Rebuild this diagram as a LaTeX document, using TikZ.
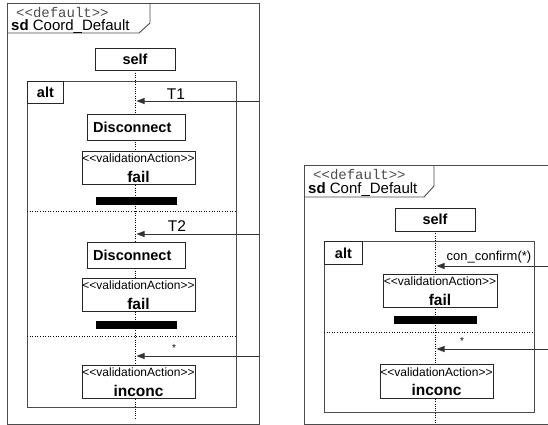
\documentclass[tikz,border=0pt]{standalone}
\usepackage{fontspec}
\newfontfamily\lsans{Liberation Sans}
\newfontfamily\lmono{Liberation Mono}
\usetikzlibrary{arrows.meta,backgrounds}
\begin{document}
\begin{tikzpicture}[x=1pt,y=-1pt,
  frm/.style={draw=black!70, line width=0.9pt},
  box/.style={draw=black!85, line width=0.9pt, inner sep=0pt, fill=white},
  life/.style={draw=black, line width=0.9pt, dash pattern=on 1pt off 1.3pt},
  sepline/.style={draw=black, line width=0.9pt, dash pattern=on 1pt off 1.6pt},
  msg/.style={draw=black!80, line width=0.9pt, -{Triangle[length=8pt,width=6pt]}, shorten >=1.5pt},
  bar/.style={fill=black, inner sep=0pt, minimum height=8pt},
  stereo/.style={font=\lsans\fontsize{12}{12}\selectfont, inner sep=0pt},
  act/.style={font=\lsans\bfseries\fontsize{14.5}{15}\selectfont, inner sep=0pt},
  big/.style={font=\lsans\bfseries\fontsize{15.5}{16}\selectfont, inner sep=0pt},
  lbl/.style={font=\lsans\fontsize{13}{14}\selectfont, inner sep=0pt},
  deflbl/.style={font=\lmono\fontsize{14}{14}\selectfont, text=black!70, inner sep=0pt, anchor=base west},
  sdlbl/.style={font=\lsans\fontsize{15}{15}\selectfont, inner sep=0pt, anchor=base west},
]
\useasboundingbox (0,0) rectangle (548,425);
\clip (0,0) rectangle (548,425);

% ================= left diagram =================
\draw[frm] (7,3) rectangle (259,424);
\draw[frm] (7,33) -- (139,33) -- (150,23) -- (150,3);
\node[deflbl] (ldef) at (16,18) {<<default>>};
\node[sdlbl] (lsd) at (11,31) {\bfseries sd\mdseries\ Coord\_Default};

\node[box, act, minimum width=80pt, minimum height=22pt] (lself) at (135,59) {self};
\coordinate (lend) at (135,419);

\draw[frm] (27,81) rectangle (236,407);
\node[box, act, minimum width=36pt, minimum height=22pt, anchor=north west] (lalt) at (27,81) {alt};

% T1
\coordinate (lt1s) at (259,101);
\node[lbl, font=\lsans\fontsize{15.5}{16}\selectfont] (lt1) at (176,94) {T1};
\node[box, minimum width=98pt, minimum height=26pt] (ldisc1) at (136,127) {};
\node[act, anchor=west] (ldisc1t) at (93,127.5) {Disconnect};
\node[box, minimum width=113pt, minimum height=33pt] (lfail1) at (138.5,167.5) {};
\node[stereo] (lfail1s) at (138.5,158.5) {<<validationAction>>};
\node[big] (lfail1t) at (138.5,176.5) {fail};
\node[bar, minimum width=81pt] (lbar1) at (136.5,200.5) {};
\draw[sepline] (27,211) -- (236,211);

% T2
\coordinate (lt2s) at (259,234);
\node[lbl, font=\lsans\fontsize{15.5}{16}\selectfont] (lt2) at (177,226) {T2};
\node[box, minimum width=98pt, minimum height=26pt] (ldisc2) at (136,255) {};
\node[act, anchor=west] (ldisc2t) at (93,255.5) {Disconnect};
\node[box, minimum width=113pt, minimum height=33pt] (lfail2) at (138.5,294.5) {};
\node[stereo] (lfail2s) at (138.5,285.5) {<<validationAction>>};
\node[big] (lfail2t) at (138.5,303.5) {fail};
\node[bar, minimum width=81pt] (lbar2) at (136.5,325) {};
\draw[sepline] (27,336) -- (236,336);

% *
\coordinate (lt3s) at (259,356);
\node[lbl, font=\lsans\fontsize{10}{10}\selectfont] (lt3) at (174,348) {*};
\node[box, minimum width=113pt, minimum height=33pt] (linc) at (138.5,381.5) {};
\node[stereo] (lincs) at (138.5,372.5) {<<validationAction>>};
\node[big] (linct) at (138.5,390.5) {inconc};

\begin{scope}[on background layer]
\fill[white] (0,0) rectangle (548,425);
\draw[life] (lself.south) -- (lend);
\draw[life] (435,231) -- (435,425);
\end{scope}
\draw[msg] (lt1s) -- (lt1s -| lend);
\draw[msg] (lt2s) -- (lt2s -| lend);
\draw[msg] (lt3s) -- (lt3s -| lend);

% ================= right diagram =================
\draw[frm] (560,165) -- (304,165) -- (304,424) -- (560,424);
\draw[frm] (304,197) -- (424,197) -- (434,186) -- (434,165);
\node[deflbl] (rdef) at (313,179) {<<default>>};
\node[sdlbl] (rsd) at (308,193) {\bfseries sd\mdseries\ Conf\_Default};

\node[box, act, minimum width=80pt, minimum height=23pt] (rself) at (435,219.5) {self};
\coordinate (rend) at (435,425);

\draw[frm] (324,241) rectangle (534,412);
\node[box, act, minimum width=38pt, minimum height=23pt, anchor=north west] (ralt) at (324,241) {alt};

\coordinate (rt1s) at (560,266);
\node[lbl] (rt1) at (489,257) {con\_confirm(*)};
\node[box, minimum width=114pt, minimum height=33pt] (rfail) at (440,290.5) {};
\node[stereo] (rfails) at (440,281.5) {<<validationAction>>};
\node[big] (rfailt) at (440,299.5) {fail};
\node[bar, minimum width=83pt] (rbar) at (435.5,320) {};
\draw[sepline] (324,332) -- (534,332);

\coordinate (rt2s) at (560,349);
\node[lbl, font=\lsans\fontsize{10}{10}\selectfont] (rt2) at (462,341) {*};
\node[box, minimum width=113pt, minimum height=34pt] (rinc) at (436.5,381) {};
\node[stereo] (rincs) at (436.5,372) {<<validationAction>>};
\node[big] (rinct) at (436.5,390) {inconc};

\draw[msg] (rt1s) -- (rt1s -| rend);
\draw[msg] (rt2s) -- (rt2s -| rend);
\end{tikzpicture}
\end{document}
